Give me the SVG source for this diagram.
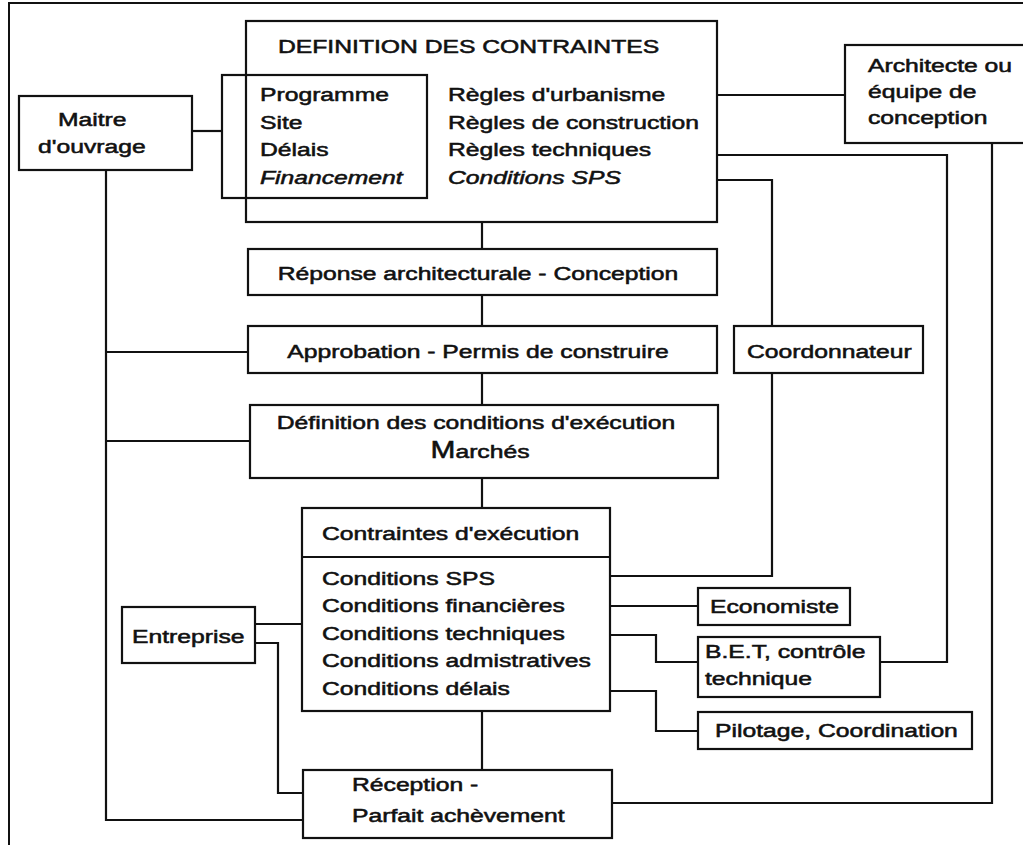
<svg xmlns="http://www.w3.org/2000/svg" width="1023" height="845" viewBox="0 0 1023 845">
  <style>
    .box { fill: none; stroke: #111; stroke-width: 2.2; }
    .wire { fill: none; stroke: #111; stroke-width: 2.2; stroke-linejoin: miter; }
    .frame { fill: none; stroke: #111; stroke-width: 2; }
    text { font-family: "Liberation Sans", Arial, sans-serif; font-size: 19px; fill: #111; stroke: #111; stroke-width: 0.55; }
    .it { font-style: italic; }
  </style>
  <rect width="1023" height="845" fill="#fff"/>

  <!-- page frame (top and left edges only) -->
  <path class="frame" d="M1023 3 H9 V845"/>

  <!-- connectors -->
  <g id="connectors">
    <path class="wire" d="M192 131 H222"/>
    <path class="wire" d="M106 170 V820 H303"/>
    <path class="wire" d="M106 352 H248"/>
    <path class="wire" d="M106 441 H250"/>
    <path class="wire" d="M482 222 V249"/>
    <path class="wire" d="M482 295 V326"/>
    <path class="wire" d="M482 373 V405"/>
    <path class="wire" d="M482 478 V508"/>
    <path class="wire" d="M482 711 V770"/>
    <path class="wire" d="M717 95 H845"/>
    <path class="wire" d="M717 155 H947 V662 H880"/>
    <path class="wire" d="M717 180 H772 V326"/>
    <path class="wire" d="M772 373 V576 H610"/>
    <path class="wire" d="M610 606 H698"/>
    <path class="wire" d="M610 635 H656 V662 H698"/>
    <path class="wire" d="M610 691 H656 V731 H698"/>
    <path class="wire" d="M255 624 H302"/>
    <path class="wire" d="M255 643 H278 V793 H303"/>
    <path class="wire" d="M992 143 V803 H612"/>
  </g>

  <g id="definition-contraintes">
    <rect class="box" x="246" y="21" width="471" height="201"/>
    <text transform="translate(278 53) scale(1.3 1)">DEFINITION DES CONTRAINTES</text>
    <text transform="translate(448 101) scale(1.3 1)">Règles d'urbanisme</text>
    <text transform="translate(448 129) scale(1.3 1)">Règles de construction</text>
    <text transform="translate(448 156) scale(1.3 1)">Règles techniques</text>
    <text class="it" transform="translate(448 184) scale(1.3 1)">Conditions SPS</text>
  </g>

  <g id="programme">
    <rect class="box" x="222" y="75" width="205" height="123"/>
    <text transform="translate(260 101) scale(1.3 1)">Programme</text>
    <text transform="translate(260 129) scale(1.3 1)">Site</text>
    <text transform="translate(260 156) scale(1.3 1)">Délais</text>
    <text class="it" transform="translate(260 184) scale(1.3 1)">Financement</text>
  </g>

  <g id="maitre-ouvrage">
    <rect class="box" x="19" y="96" width="173" height="74"/>
    <text transform="translate(58 126) scale(1.3 1)">Maitre</text>
    <text transform="translate(38 153) scale(1.3 1)">d'ouvrage</text>
  </g>

  <g id="architecte">
    <rect class="box" x="845" y="45" width="182" height="98"/>
    <text transform="translate(868 72) scale(1.3 1)">Architecte ou</text>
    <text transform="translate(868 98) scale(1.3 1)">équipe de</text>
    <text transform="translate(868 124) scale(1.3 1)">conception</text>
  </g>

  <g id="reponse">
    <rect class="box" x="248" y="249" width="469" height="46"/>
    <text text-anchor="middle" transform="translate(478 280) scale(1.3 1)">Réponse architecturale - Conception</text>
  </g>

  <g id="approbation">
    <rect class="box" x="248" y="326" width="469" height="47"/>
    <text text-anchor="middle" transform="translate(478 358) scale(1.3 1)">Approbation - Permis de construire</text>
  </g>

  <g id="coordonnateur">
    <rect class="box" x="734" y="326" width="189" height="47"/>
    <text transform="translate(747 358) scale(1.3 1)">Coordonnateur</text>
  </g>

  <g id="conditions-execution">
    <rect class="box" x="250" y="405" width="468" height="73"/>
    <text text-anchor="middle" transform="translate(476 429) scale(1.3 1)">Définition des conditions d'exécution</text>
    <text text-anchor="middle" transform="translate(480 458) scale(1.3 1)"><tspan font-size="23">M</tspan>archés</text>
  </g>

  <g id="contraintes-execution">
    <rect class="box" x="302" y="508" width="308" height="203"/>
    <path class="box" d="M302 557 H610"/>
    <text transform="translate(322 540) scale(1.3 1)">Contraintes d'exécution</text>
    <text transform="translate(322 585) scale(1.3 1)">Conditions SPS</text>
    <text transform="translate(322 612) scale(1.3 1)">Conditions financières</text>
    <text transform="translate(322 640) scale(1.3 1)">Conditions techniques</text>
    <text transform="translate(322 667) scale(1.3 1)">Conditions admistratives</text>
    <text transform="translate(322 695) scale(1.3 1)">Conditions délais</text>
  </g>

  <g id="entreprise">
    <rect class="box" x="122" y="607" width="133" height="56"/>
    <text transform="translate(132 643) scale(1.3 1)">Entreprise</text>
  </g>

  <g id="economiste">
    <rect class="box" x="698" y="588" width="152" height="37"/>
    <text transform="translate(710 613) scale(1.3 1)">Economiste</text>
  </g>

  <g id="bet">
    <rect class="box" x="698" y="637" width="182" height="60"/>
    <text transform="translate(705 658) scale(1.3 1)">B.E.T, contrôle</text>
    <text transform="translate(705 685) scale(1.3 1)">technique</text>
  </g>

  <g id="pilotage">
    <rect class="box" x="698" y="712" width="274" height="37"/>
    <text transform="translate(715 737) scale(1.3 1)">Pilotage, Coordination</text>
  </g>

  <g id="reception">
    <rect class="box" x="303" y="770" width="309" height="68"/>
    <text transform="translate(352 791) scale(1.3 1)">Réception -</text>
    <text transform="translate(352 822) scale(1.3 1)">Parfait achèvement</text>
  </g>
</svg>
